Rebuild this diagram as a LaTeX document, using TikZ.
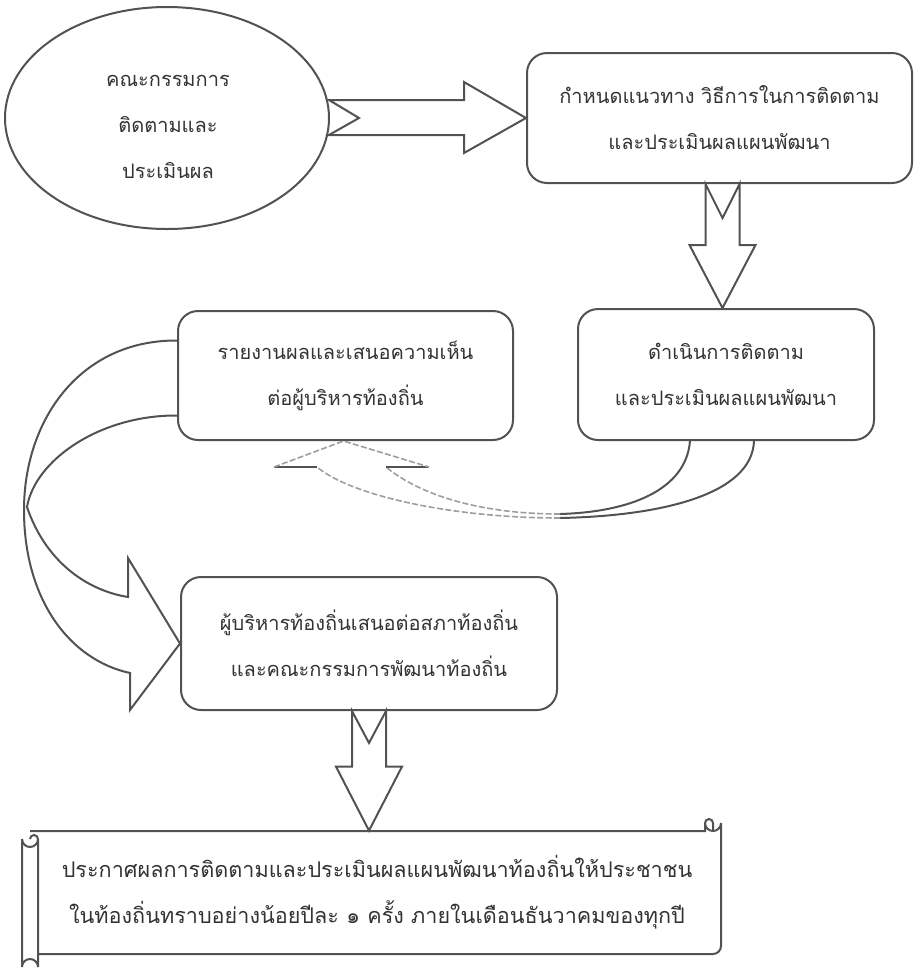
\documentclass[tikz,border=0pt]{standalone}
\usepackage{fontspec}
\newfontfamily\thai[Script=Thai]{Loma}
\usetikzlibrary{calc,shapes.geometric}
\begin{document}
\begin{tikzpicture}[x=0.5pt,y=-0.5pt,
  ln/.style={draw=black!68,line width=1pt,line join=miter},
  txt/.style={align=center,text=black!80,font=\thai\fontsize{10}{23}\selectfont,inner sep=0pt},
  box/.style={ln,txt,rounded corners=10pt},
  faint/.style={draw=black!38,line width=0.8pt,dash pattern=on 3pt off 1.2pt}]
\useasboundingbox (0,0) rectangle (914,976);
% nodes
\node[ln,ellipse,minimum width=162pt,minimum height=111pt,inner sep=0pt] (e) at (167,118) {};
\node[txt] (et) at (168,127) {คณะกรรมการ\\ติดตามและ\\ประเมินผล};
\node[box,minimum width=192.5pt,minimum height=65pt] (b1) at (719.5,118) {กำหนดแนวทาง วิธีการในการติดตาม\\และประเมินผลแผนพัฒนา};
\node[box,minimum width=148pt,minimum height=65.5pt] (b2) at (726,374.5) {ดำเนินการติดตาม\\และประเมินผลแผนพัฒนา};
\node[box,minimum width=167.5pt,minimum height=64.5pt] (b3) at (345.5,375.5) {รายงานผลและเสนอความเห็น\\ต่อผู้บริหารท้องถิ่น};
\node[box,minimum width=188pt,minimum height=66.5pt] (b4) at (369,643.5) {ผู้บริหารท้องถิ่นเสนอต่อสภาท้องถิ่น\\และคณะกรรมการพัฒนาท้องถิ่น};
\node[txt,minimum width=341.5pt,minimum height=61.5pt,font=\thai\fontsize{10.8}{23}\selectfont] (sc) at (377,892.5) {ประกาศผลการติดตามและประเมินผลแผนพัฒนาท้องถิ่นให้ประชาชน\\ในท้องถิ่นทราบอย่างน้อยปีละ ๑ ครั้ง ภายในเดือนธันวาคมของทุกปี};
% scroll outline
\draw[ln] (30,831) -- (705,831) -- (705,823) arc[start angle=180,end angle=0,radius=8] -- (721,946) arc[start angle=0,end angle=90,radius=8] -- (38,954);
\draw[ln] (705,823) arc[start angle=180,end angle=360,radius=4] -- (713,831);
\draw[ln] (22,839) arc[start angle=180,end angle=0,radius=8] -- (38,954);
\draw[ln] (22,839) -- (22,967) arc[start angle=180,end angle=360,radius=8] -- (38,954);
\draw[ln] (30,839) arc[start angle=180,end angle=360,radius=4];
% right block arrow ellipse -> b1
\draw[ln] ($(e.east)+(-1,-18)$) -- ($(b1.west)+(-62,-18)$) -- ($(b1.west)+(-62,-36)$) -- (b1.west)
  -- ($(b1.west)+(-62,35)$) -- ($(b1.west)+(-62,17)$) -- ($(e.east)+(-1,17)$) -- ($(e.east)+(29,0)$) -- cycle;
% down arrow b1 -> b2
\coordinate (t1) at ($(b1.south)+(3,0)$);
\coordinate (p1) at (t1 |- b2.north);
\draw[ln] ($(t1)+(-17,0)$) -- ($(t1)+(0,34)$) -- ($(t1)+(17,0)$) -- ($(p1)+(17,-63)$) -- ($(p1)+(33,-63)$) -- (p1)
  -- ($(p1)+(-33,-63)$) -- ($(p1)+(-17,-63)$) -- cycle;
% down arrow b4 -> scroll
\coordinate (t2) at (b4.south);
\coordinate (p2) at (t2 |- sc.north);
\draw[ln] ($(t2)+(-17,0)$) -- ($(t2)+(0,32)$) -- ($(t2)+(17,0)$) -- ($(p2)+(17,-64)$) -- ($(p2)+(33,-64)$) -- (p2)
  -- ($(p2)+(-33,-64)$) -- ($(p2)+(-17,-64)$) -- cycle;
% curved arrow b3 -> b4
\coordinate (u0) at ($(b3.west)+(0,-35)$);
\coordinate (l0) at ($(b3.west)+(0,40)$);
\draw[ln] (u0) .. controls (80,340) and (24,420) .. (24,510) .. controls (24,600) and (70,660) .. (130,673)
  -- (130,710) -- (b4.west) -- (128,558) -- (128,597)
  .. controls (85,590) and (45,560) .. (27,507) .. controls (35,460) and (100,415) .. (l0);
% light curved arrow b2 -> b3
\coordinate (ra) at ($(b2.south)+(-36,0)$);
\coordinate (rb) at ($(b2.south)+(28,0)$);
\coordinate (tp) at ($(b3.south)+(-2,0)$);
\draw[ln] (rb) .. controls (752,495) and (660,516) .. (560,518);
\draw[ln] (ra) .. controls (686,490) and (630,512) .. (560,514);
\draw[faint] (560,518) .. controls (450,518) and (350,495) .. (317,467);
\draw[faint] (560,514) .. controls (480,514) and (420,495) .. (386,467);
\draw[ln] (317,467) -- (274,467);
\draw[ln] (386,467) -- (429,467);
\draw[faint] (274,467) -- (tp) -- (429,467);
\end{tikzpicture}
\end{document}
